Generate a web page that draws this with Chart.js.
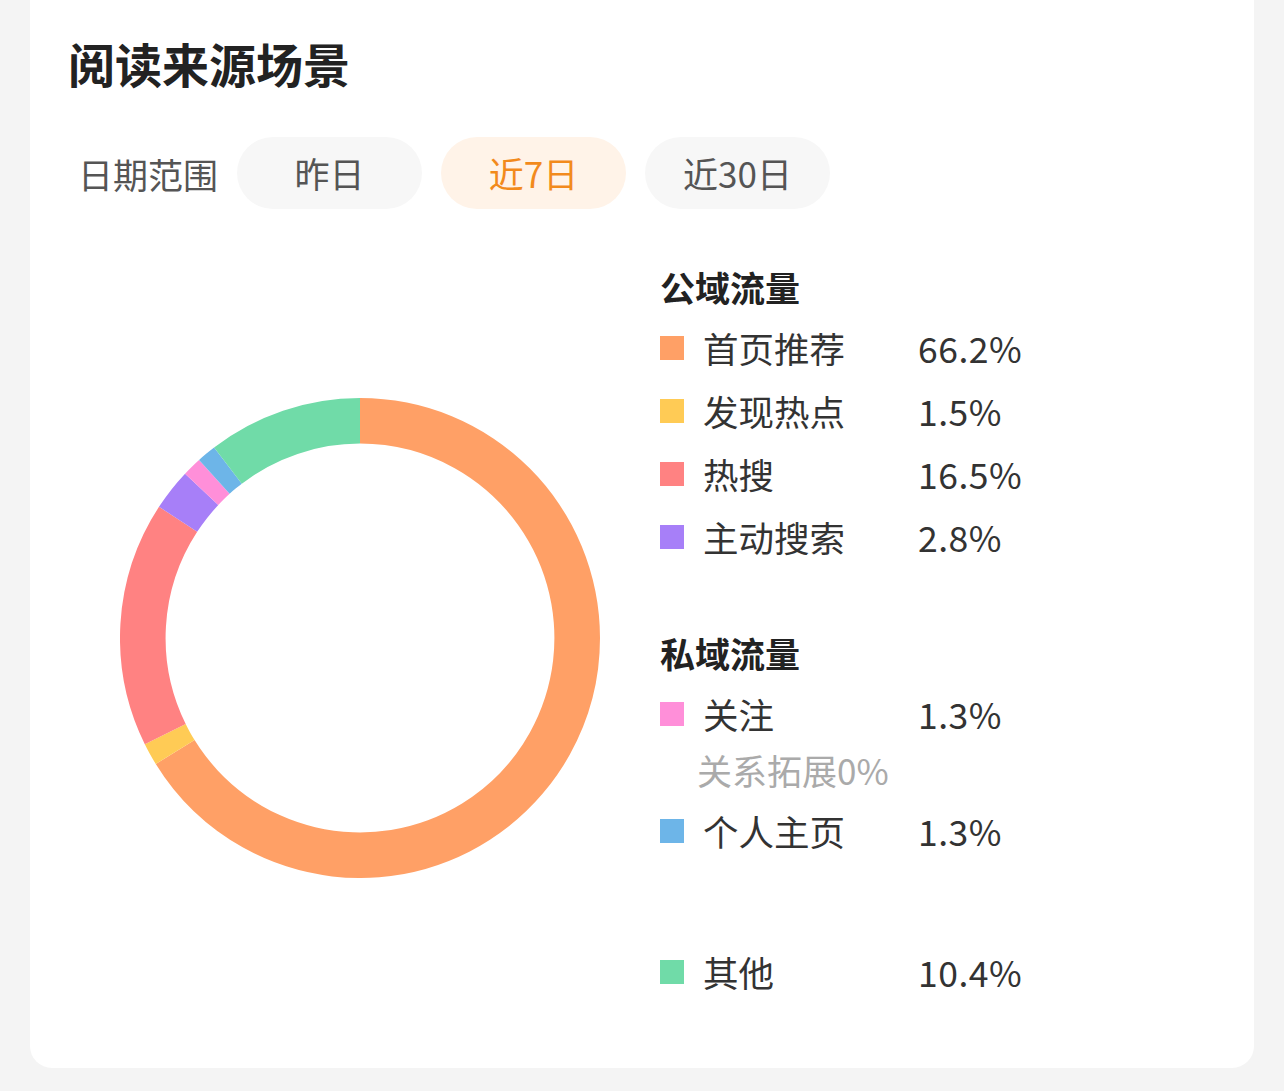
<!DOCTYPE html>
<html><head><meta charset="utf-8">
<script src="https://cdn.jsdelivr.net/npm/chart.js@4/dist/chart.umd.min.js"></script>
<style>
body{margin:0;background:#f4f4f4;font-family:"Noto Sans CJK SC","Noto Sans",sans-serif;width:1284px;height:1091px;overflow:hidden;position:relative}
#card{position:absolute;left:30px;top:-20px;width:1224px;height:1088px;background:#fff;border-radius:22px}
.t{position:absolute;white-space:nowrap;color:#333}
.pill{position:absolute;top:137px;width:185px;height:72px;border-radius:36px;background:#f7f7f7;font-size:35px;line-height:72px;text-align:center;color:#555}
.sq{position:absolute;width:24px;height:24px;left:660px}
#wrap{position:absolute;left:120px;top:398px;width:480px;height:480px}
</style></head><body>
<div id="card"></div>
<div class="t" style="left:68px;top:28px;font-size:47px;font-weight:bold;color:#222">阅读来源场景</div>
<div class="t" style="left:78px;top:148px;font-size:35px;color:#555">日期范围</div>
<div class="pill" style="left:237px">昨日</div>
<div class="pill" style="left:441px;background:#fff3e8;color:#f28a1c">近7日</div>
<div class="pill" style="left:645px">近30日</div>
<div id="wrap"><canvas id="c"></canvas></div>
<div id="legend"></div>
<script>
const labels = ['首页推荐','发现热点','热搜','主动搜索','关注','个人主页','其他'];
const values = [66.2,1.5,16.5,2.8,1.3,1.3,10.4];
const colors = ['#FFA066','#FFCB55','#FF8282','#A77FF8','#FF8FD9','#6DB5E8','#70DBA8'];
const rowsY = [348,411,474,537,714,831,972];

let html = "<div class='t' style='left:660px;top:261px;font-size:35px;font-weight:bold;color:#222'>公域流量</div>";
html += "<div class='t' style='left:660px;top:627px;font-size:35px;font-weight:bold;color:#222'>私域流量</div>";
html += "<div class='t' style='left:697px;top:744px;font-size:35px;color:#aaa'>关系拓展0%</div>";
for (let i = 0; i < labels.length; i++){
	let y = rowsY[i];
	html += "<div class='sq' style='top:"+(y-12)+"px;background:"+colors[i]+"'></div>";
	html += "<div class='t' style='left:703px;top:"+(y-26)+"px;font-size:35.5px'>"+labels[i]+"</div>";
	html += "<div class='t' style='left:918px;top:"+(y-26)+"px;font-size:35.5px;letter-spacing:0.5px'>"+values[i]+"%</div>";
}
document.getElementById("legend").innerHTML = html;

new Chart(document.getElementById('c'), {
	type:'doughnut',
	data:{labels:labels, datasets:[{data:values, backgroundColor:colors, borderWidth:0}]},
	options:{responsive:true, maintainAspectRatio:false, animation:false, cutout:'81%',
		plugins:{legend:{display:false}, tooltip:{enabled:false}}}
});
</script>
</body></html>
